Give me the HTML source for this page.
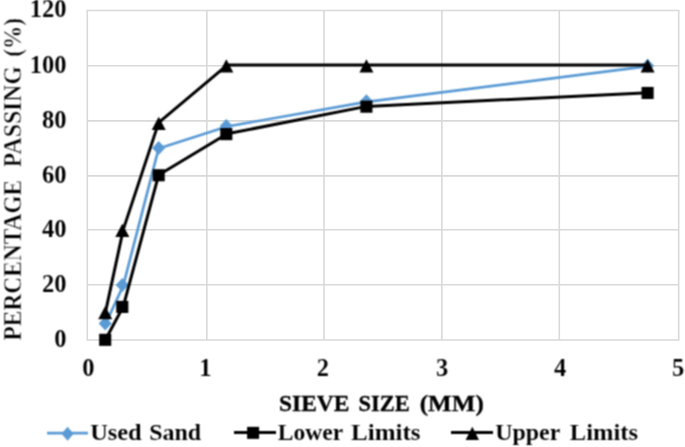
<!DOCTYPE html>
<html><head><meta charset="utf-8"><style>
html,body{margin:0;padding:0;background:#fff;}
body{width:685px;height:447px;overflow:hidden;}
svg{display:block;}
</style></head><body>
<svg width="685" height="447" viewBox="0 0 685 447"><defs><filter id="b" x="0" y="0" width="1" height="1" filterUnits="objectBoundingBox" color-interpolation-filters="sRGB"><feConvolveMatrix order="3" kernelMatrix="1 2 1 2 4 2 1 2 1" divisor="16" edgeMode="none"/></filter></defs><rect width="685" height="447" fill="#fff"/><path d="M87.30 340.04H678.70M87.30 284.80H678.70M87.30 229.80H678.70M87.30 175.85H678.70M87.30 120.85H678.70M87.30 65.70H678.70M87.30 10.44H678.70M87.30 10.44V340.04M206.80 10.44V340.04M324.00 10.44V340.04M441.85 10.44V340.04M559.30 10.44V340.04M678.70 10.44V340.04" stroke="#d9d9d9" stroke-width="1.6" fill="none" stroke-linecap="square"/><g filter="url(#b)"><polyline points="105.53,323.96 123.24,285.56 158.66,148.42 227.14,126.48 366.47,101.80 648.65,66.14" fill="none" stroke="#5b9bd5" stroke-width="2.7" stroke-linejoin="round" stroke-linecap="round"/><path d="M105.20 316.46L111.70 323.46L105.20 330.46L98.70 323.46Z" fill="#5b9bd5"/><path d="M122.30 278.06L128.80 285.06L122.30 292.06L115.80 285.06Z" fill="#5b9bd5"/><path d="M158.70 140.92L165.20 147.92L158.70 154.92L152.20 147.92Z" fill="#5b9bd5"/><path d="M226.30 118.98L232.80 125.98L226.30 132.98L219.80 125.98Z" fill="#5b9bd5"/><path d="M366.40 94.30L372.90 101.30L366.40 108.30L359.90 101.30Z" fill="#5b9bd5"/><path d="M647.60 58.64L654.10 65.64L647.60 72.64L641.10 65.64Z" fill="#5b9bd5"/><polyline points="105.53,339.52 123.24,306.61 158.66,174.95 227.14,133.81 366.47,106.38 648.65,92.67" fill="none" stroke="#000" stroke-width="3" stroke-linejoin="round" stroke-linecap="round"/><rect x="99.15" y="333.77" width="12.1" height="12.1" fill="#000"/><rect x="116.25" y="300.86" width="12.1" height="12.1" fill="#000"/><rect x="152.65" y="169.20" width="12.1" height="12.1" fill="#000"/><rect x="220.25" y="128.06" width="12.1" height="12.1" fill="#000"/><rect x="360.35" y="100.63" width="12.1" height="12.1" fill="#000"/><rect x="641.55" y="86.92" width="12.1" height="12.1" fill="#000"/><polyline points="105.53,311.89 123.24,229.61 158.66,122.64 227.14,65.04 366.47,65.04 648.65,65.04" fill="none" stroke="#000" stroke-width="3" stroke-linejoin="round" stroke-linecap="round"/><path d="M105.20 306.04L112.20 319.34L98.20 319.34Z" fill="#000"/><path d="M122.30 223.76L129.30 237.06L115.30 237.06Z" fill="#000"/><path d="M158.70 116.79L165.70 130.09L151.70 130.09Z" fill="#000"/><path d="M226.30 59.19L233.30 72.49L219.30 72.49Z" fill="#000"/><path d="M366.40 59.19L373.40 72.49L359.40 72.49Z" fill="#000"/><path d="M647.60 59.19L654.60 72.49L640.60 72.49Z" fill="#000"/><text x="66.6" y="346.84" text-anchor="end" font-family="Liberation Serif, Times New Roman, serif" font-weight="bold" font-size="24.5" fill="#000" stroke="#fff" stroke-width="0.1">0</text><text x="66.6" y="291.60" text-anchor="end" font-family="Liberation Serif, Times New Roman, serif" font-weight="bold" font-size="24.5" fill="#000" stroke="#fff" stroke-width="0.1">20</text><text x="66.6" y="236.60" text-anchor="end" font-family="Liberation Serif, Times New Roman, serif" font-weight="bold" font-size="24.5" fill="#000" stroke="#fff" stroke-width="0.1">40</text><text x="66.6" y="182.65" text-anchor="end" font-family="Liberation Serif, Times New Roman, serif" font-weight="bold" font-size="24.5" fill="#000" stroke="#fff" stroke-width="0.1">60</text><text x="66.6" y="127.65" text-anchor="end" font-family="Liberation Serif, Times New Roman, serif" font-weight="bold" font-size="24.5" fill="#000" stroke="#fff" stroke-width="0.1">80</text><text x="66.6" y="72.50" text-anchor="end" font-family="Liberation Serif, Times New Roman, serif" font-weight="bold" font-size="24.5" fill="#000" stroke="#fff" stroke-width="0.1">100</text><text x="66.6" y="17.24" text-anchor="end" font-family="Liberation Serif, Times New Roman, serif" font-weight="bold" font-size="24.5" fill="#000" stroke="#fff" stroke-width="0.1">120</text><text x="88.35" y="376.2" text-anchor="middle" font-family="Liberation Serif, Times New Roman, serif" font-weight="bold" font-size="24.5" fill="#000" stroke="#fff" stroke-width="0.1">0</text><text x="205.25" y="376.2" text-anchor="middle" font-family="Liberation Serif, Times New Roman, serif" font-weight="bold" font-size="24.5" fill="#000" stroke="#fff" stroke-width="0.1">1</text><text x="322.75" y="376.2" text-anchor="middle" font-family="Liberation Serif, Times New Roman, serif" font-weight="bold" font-size="24.5" fill="#000" stroke="#fff" stroke-width="0.1">2</text><text x="442.00" y="376.2" text-anchor="middle" font-family="Liberation Serif, Times New Roman, serif" font-weight="bold" font-size="24.5" fill="#000" stroke="#fff" stroke-width="0.1">3</text><text x="560.00" y="376.2" text-anchor="middle" font-family="Liberation Serif, Times New Roman, serif" font-weight="bold" font-size="24.5" fill="#000" stroke="#fff" stroke-width="0.1">4</text><text x="678.00" y="376.2" text-anchor="middle" font-family="Liberation Serif, Times New Roman, serif" font-weight="bold" font-size="24.5" fill="#000" stroke="#fff" stroke-width="0.1">5</text><text transform="translate(279.04,410.8) scale(0.9577,0.965)" font-family="Liberation Serif, Times New Roman, serif" font-weight="bold" font-size="24.5" fill="#000" stroke="#000" stroke-width="0.3">SIEVE</text><text transform="translate(358.38,410.8) scale(0.9185,0.965)" font-family="Liberation Serif, Times New Roman, serif" font-weight="bold" font-size="24.5" fill="#000" stroke="#000" stroke-width="0.3">SIZE</text><text transform="translate(419.68,410.8) scale(1.0246,0.965)" font-family="Liberation Serif, Times New Roman, serif" font-weight="bold" font-size="24.5" fill="#000" stroke="#000" stroke-width="0.3">(MM)</text><text transform="translate(20.5,340.40) rotate(-90) scale(0.954,1)" font-family="Liberation Serif, Times New Roman, serif" font-weight="bold" font-size="24.5" fill="#000" stroke="#fff" stroke-width="0.45">PERCENTAGE</text><text transform="translate(20.5,167.20) rotate(-90) scale(0.970,1)" font-family="Liberation Serif, Times New Roman, serif" font-weight="bold" font-size="24.5" fill="#000" stroke="#fff" stroke-width="0.45">PASSING</text><text transform="translate(20.5,56.75) rotate(-90) scale(0.951,1)" font-family="Liberation Serif, Times New Roman, serif" font-weight="bold" font-size="24.5" fill="#000" stroke="#fff" stroke-width="0.45">(%)</text><path d="M47 433.1H88" stroke="#5b9bd5" stroke-width="2.9"/><path d="M67.55 426.80L73.55 433.80L67.55 440.80L61.55 433.80Z" fill="#5b9bd5"/><text transform="translate(90.20,440.4) scale(0.9960,0.975)" font-family="Liberation Serif, Times New Roman, serif" font-weight="bold" font-size="24.5" fill="#000" stroke="#fff" stroke-width="0.1">Used</text><text transform="translate(149.22,440.4) scale(0.9788,0.975)" font-family="Liberation Serif, Times New Roman, serif" font-weight="bold" font-size="24.5" fill="#000" stroke="#fff" stroke-width="0.1">Sand</text><path d="M234 432.6H276" stroke="#000" stroke-width="3"/><rect x="247.10" y="426.85" width="12" height="12" fill="#000"/><text transform="translate(277.80,440.4) scale(0.9618,0.975)" font-family="Liberation Serif, Times New Roman, serif" font-weight="bold" font-size="24.5" fill="#000" stroke="#fff" stroke-width="0.1">Lower</text><text transform="translate(351.10,440.4) scale(1.0209,0.975)" font-family="Liberation Serif, Times New Roman, serif" font-weight="bold" font-size="24.5" fill="#000" stroke="#fff" stroke-width="0.1">Limits</text><path d="M451 432.6H493" stroke="#000" stroke-width="3"/><path d="M472.30 426.70L479.00 440.10L465.60 440.10Z" fill="#000"/><text transform="translate(495.22,440.4) scale(0.9769,0.975)" font-family="Liberation Serif, Times New Roman, serif" font-weight="bold" font-size="24.5" fill="#000" stroke="#fff" stroke-width="0.1">Upper</text><text transform="translate(569.80,440.4) scale(1.0015,0.975)" font-family="Liberation Serif, Times New Roman, serif" font-weight="bold" font-size="24.5" fill="#000" stroke="#fff" stroke-width="0.1">Limits</text></g></svg>
</body></html>
